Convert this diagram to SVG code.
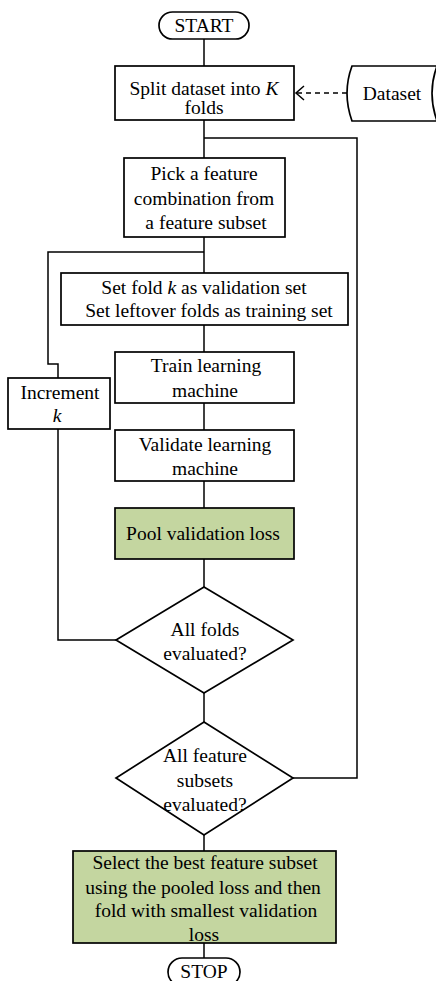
<svg xmlns="http://www.w3.org/2000/svg" width="436" height="981" viewBox="0 0 436 981">
<defs>
<style>
text{font-family:"Liberation Serif","Times New Roman",serif;font-size:19.5px;fill:#000;text-anchor:middle}
.n{fill:#fff;stroke:#000;stroke-width:1.7}
.g{fill:#c4d6a0;stroke:#000;stroke-width:1.7}
.c{fill:none;stroke:#000;stroke-width:1.5}
.d{fill:none;stroke:#000;stroke-width:1.5;stroke-dasharray:5,4}
</style>
</defs>
<rect width="436" height="981" fill="#fff"/>
<g id="connectors">
<path class="c" d="M204,39 V66"/>
<path class="c" d="M204,120 V158"/>
<path class="c" d="M204,138 H357 V778 H293"/>
<path class="c" d="M204,237 V273"/>
<path class="c" d="M204,252 H48 V364 H58 V378"/>
<path class="c" d="M204,325 V352"/>
<path class="c" d="M204,403 V430"/>
<path class="c" d="M204,481 V508"/>
<path class="c" d="M204,559 V587"/>
<path class="c" d="M58,429 V640 H116"/>
<path class="c" d="M204,693 V722"/>
<path class="c" d="M204,835 V851"/>
<path class="c" d="M204,943 V958"/>
<path class="d" d="M347,93 H297"/>
<path class="c" d="M304,86 L296,93 L304,100"/>
</g>
<g id="start">
<rect class="n" x="159" y="12" width="90" height="27" rx="13.5"/>
<text x="204" y="32">START</text>
</g>
<g id="split">
<rect class="n" x="115" y="66" width="179" height="54"/>
<text x="204" y="95">Split dataset into<tspan font-style="italic"> K</tspan></text>
<text x="204" y="114">folds</text>
</g>
<g id="dataset">
<path class="n" d="M352,66 H437 Q427,93 437,121 H352 Q342,93 352,66 Z"/>
<text x="392" y="100">Dataset</text>
</g>
<g id="pick">
<rect class="n" x="124" y="158" width="161" height="79"/>
<text x="204" y="180">Pick a feature</text>
<text x="204" y="205">combination from</text>
<text x="206" y="229">a feature subset</text>
</g>
<g id="setfold">
<rect class="n" x="61" y="273" width="287" height="52"/>
<text x="204" y="294">Set fold <tspan font-style="italic">k</tspan> as validation set</text>
<text x="209" y="317">Set leftover folds as training set</text>
</g>
<g id="increment">
<rect class="n" x="8" y="378" width="102" height="51"/>
<text x="60" y="399">Increment</text>
<text x="57" y="422" font-style="italic">k</text>
</g>
<g id="train">
<rect class="n" x="115" y="352" width="179" height="51"/>
<text x="206" y="372">Train learning</text>
<text x="205" y="397">machine</text>
</g>
<g id="validate">
<rect class="n" x="115" y="430" width="179" height="51"/>
<text x="205" y="451">Validate learning</text>
<text x="205" y="475">machine</text>
</g>
<g id="pool">
<rect class="g" x="115" y="508" width="179" height="51"/>
<text x="203" y="540">Pool validation loss</text>
</g>
<g id="folds">
<path class="n" d="M204,587 L293,640 L204,693 L116,640 Z"/>
<text x="205" y="636">All folds</text>
<text x="205" y="660">evaluated?</text>
</g>
<g id="subsets">
<path class="n" d="M204,722 L293,778 L204,835 L116,778 Z"/>
<text x="205" y="762">All feature</text>
<text x="205" y="787">subsets</text>
<text x="205" y="811">evaluated?</text>
</g>
<g id="select">
<rect class="g" x="73" y="851" width="263" height="92"/>
<text x="205" y="869">Select the best feature subset</text>
<text x="203" y="894">using the pooled loss and then</text>
<text x="206" y="917">fold with smallest validation</text>
<text x="204" y="941">loss</text>
</g>
<g id="stop">
<rect class="n" x="168" y="958" width="72" height="28" rx="14"/>
<text x="204" y="978">STOP</text>
</g>
</svg>
